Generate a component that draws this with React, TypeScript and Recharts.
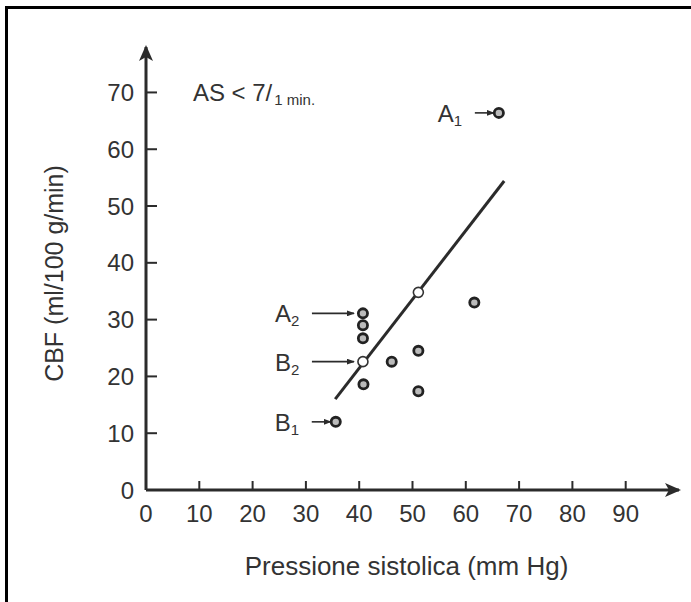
import React from 'react';
import { ScatterChart, Scatter, XAxis, YAxis } from 'recharts';

// Measured points: systolic pressure (mm Hg) vs CBF (ml/100 g/min)
const pressure = [66.2, 40.7, 40.7, 40.7, 40.7, 40.8, 46.1, 51.1, 51.1, 51.1, 61.6, 35.6];
const cbf = [66.4, 31.1, 29.0, 26.7, 22.6, 18.6, 22.6, 24.5, 17.4, 34.8, 33.0, 12.0];
const pointTags = ['A1', 'A2', '', '', 'B2', '', '', '', '', '', '', 'B1'];
const openPoint = [false, false, false, false, true, false, false, false, false, true, false, false];

// Regression line end points
const fitPressure = [35.5, 67.2];
const fitCbf = [16.0, 54.4];

const xTicks = [0, 10, 20, 30, 40, 50, 60, 70, 80, 90];
const yTicks = [0, 10, 20, 30, 40, 50, 60, 70];

const noteMain = 'AS < 7/';
const noteSub = '1 min.';
const notePressure = [8.8];
const noteCbf = [68.5];

const xTitle = 'Pressione sistolica (mm Hg)';
const yTitle = 'CBF (ml/100 g/min)';

const FONT = '"Liberation Sans", Arial, Helvetica, sans-serif';
const INK = '#2b2b2b';
const TEXT = '#333';

const points = pressure.map((x, i) => ({ x, y: cbf[i], tag: pointTags[i], open: openPoint[i] }));
const fitData = fitPressure.map((x, i) => ({ x, y: fitCbf[i] }));
const noteData = notePressure.map((x, i) => ({ x, y: noteCbf[i] }));

const XTick = (props: any) => {
  const { x, y, payload } = props;
  return (
    <g>
      <line x1={x} y1={y} x2={x} y2={y - 9} stroke={INK} strokeWidth={2} />
      <text x={x} y={y + 32} textAnchor="middle" fontSize={24} fill={TEXT} fontFamily={FONT}>
        {payload.value}
      </text>
    </g>
  );
};

const YTick = (props: any) => {
  const { x, y, payload } = props;
  return (
    <g>
      <line x1={x} y1={y} x2={x + 11} y2={y} stroke={INK} strokeWidth={2} />
      <text x={x - 12} y={y + 8.5} textAnchor="end" fontSize={24} fill={TEXT} fontFamily={FONT}>
        {payload.value}
      </text>
    </g>
  );
};

const PointShape = (props: any) => {
  const { cx, cy, payload } = props;
  const tag: string = payload.tag || '';
  let ann = null;
  if (tag) {
    const long = tag.endsWith('2');
    const a0 = long ? cx - 51 : cx - 24;
    const a1 = long ? cx - 9 : cx - 5;
    const tx = long ? cx - 88 : cx - 61;
    ann = (
      <g>
        <line x1={a0} y1={cy} x2={a1} y2={cy} stroke={INK} strokeWidth={1.6} markerEnd="url(#annArrow)" />
        <text x={tx} y={cy + 9} fontSize={24} fill={TEXT} fontFamily={FONT}>
          {tag[0]}
          <tspan fontSize={15} dy={4}>{tag.slice(1)}</tspan>
        </text>
      </g>
    );
  }
  return (
    <g>
      {ann}
      {payload.open ? (
        <circle cx={cx} cy={cy} r={5} fill="#fff" stroke="#333" strokeWidth={1.6} />
      ) : (
        <circle cx={cx} cy={cy} r={4.6} fill="#bbb" stroke="#222" strokeWidth={2.8} />
      )}
    </g>
  );
};

const NoteShape = (props: any) => {
  const { cx, cy } = props;
  return (
    <text x={cx} y={cy} fontSize={24} fill={TEXT} fontFamily={FONT}>
      {noteMain}
      <tspan fontSize={15} dy={4} dx={2}>{noteSub}</tspan>
    </text>
  );
};

const Empty = () => <g />;

export default function App() {
  return (
    <div style={{ position: 'absolute', left: 0, top: 0, width: 691, height: 602, background: '#fff', fontFamily: FONT }}>
      <svg width={0} height={0} style={{ position: 'absolute' }}>
        <defs>
          <marker id="axArrow" viewBox="0 0 16 14" refX={14} refY={7} markerWidth={16} markerHeight={14}
            markerUnits="userSpaceOnUse" orient="auto-start-reverse">
            <path d="M0,0 L16,7 L0,14 L4,7 Z" fill={INK} />
          </marker>
          <marker id="annArrow" viewBox="0 0 8 6" refX={7} refY={3} markerWidth={8} markerHeight={6}
            markerUnits="userSpaceOnUse" orient="auto">
            <path d="M0,0 L8,3 L0,6 Z" fill={INK} />
          </marker>
        </defs>
      </svg>
      <div style={{ position: 'absolute', left: 5, top: 6, right: 0, bottom: 0, borderLeft: '3px solid #000', borderTop: '3px solid #000' }} />
      <ScatterChart width={691} height={602} margin={{ top: 47, right: 12, bottom: 0, left: 0 }}>
        <XAxis
          type="number"
          dataKey="x"
          domain={[0, 100]}
          ticks={xTicks}
          height={112}
          tickSize={0}
          tickMargin={0}
          tickLine={false}
          tick={<XTick />}
          axisLine={{ stroke: INK, strokeWidth: 3, markerEnd: 'url(#axArrow)' }}
          label={{ value: xTitle, position: 'insideBottom', offset: 27, dx: -6, style: { fontSize: 26, fill: TEXT, fontFamily: FONT } }}
        />
        <YAxis
          type="number"
          dataKey="y"
          domain={[0, 78]}
          ticks={yTicks}
          width={146}
          tickSize={0}
          tickMargin={0}
          tickLine={false}
          tick={<YTick />}
          axisLine={{ stroke: INK, strokeWidth: 3, markerStart: 'url(#axArrow)' }}
          label={{ value: yTitle, angle: -90, position: 'insideLeft', offset: 54, dy: 5, style: { textAnchor: 'middle', fontSize: 25, fill: TEXT, fontFamily: FONT } }}
        />
        <Scatter data={fitData} line={{ stroke: INK, strokeWidth: 3 }} lineType="joint" shape={<Empty />} isAnimationActive={false} />
        <Scatter data={points} shape={<PointShape />} isAnimationActive={false} />
        <Scatter data={noteData} shape={<NoteShape />} isAnimationActive={false} />
      </ScatterChart>
    </div>
  );
}
